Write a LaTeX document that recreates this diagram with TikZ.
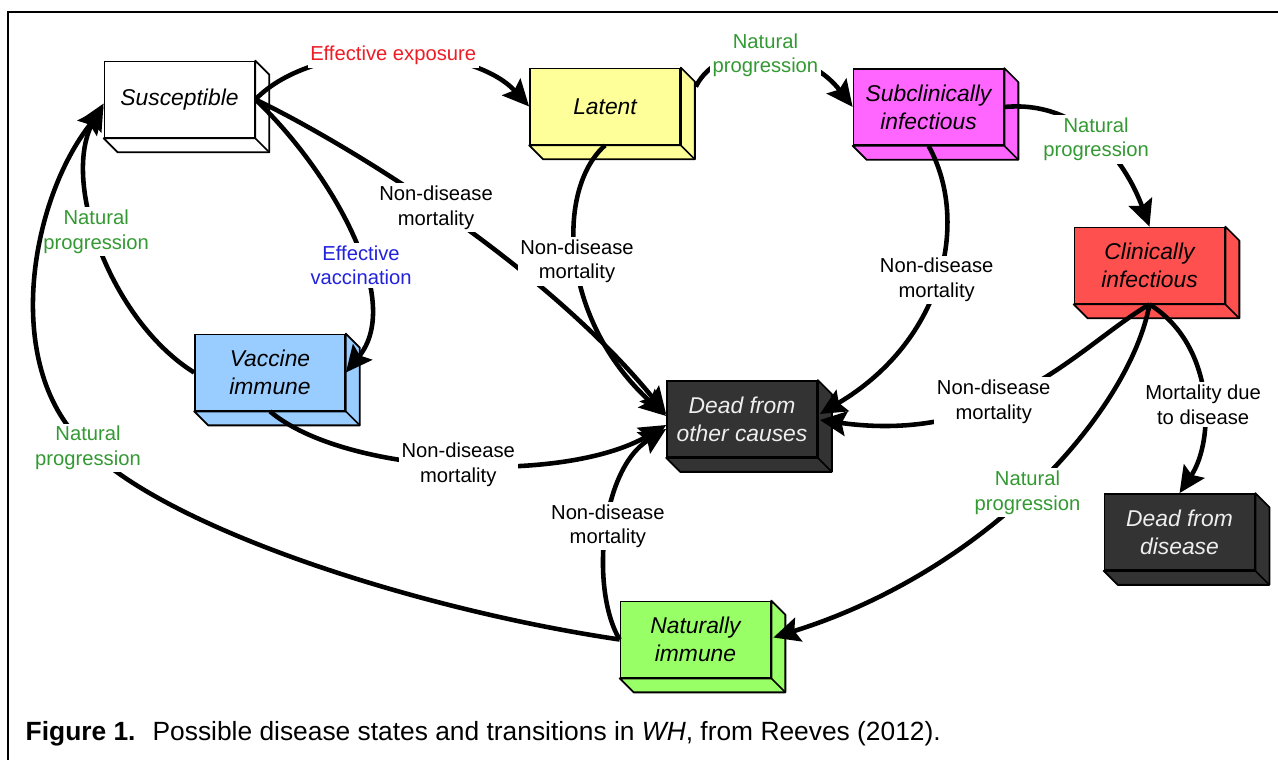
\documentclass[tikz,border=0pt]{standalone}
\usepackage{fontspec}
\setmainfont{Liberation Sans}
\usetikzlibrary{arrows.meta, positioning, calc}
\definecolor{cyellow}{HTML}{FFFF99}
\definecolor{cmagenta}{HTML}{FF66FF}
\definecolor{cred}{HTML}{FF5050}
\definecolor{cblue}{HTML}{99CCFF}
\definecolor{cdark}{HTML}{333333}
\definecolor{clime}{HTML}{99FF66}
\definecolor{clight}{HTML}{EEEEEE}
\definecolor{tgreen}{HTML}{339933}
\definecolor{tred}{HTML}{EE1C25}
\definecolor{tblue}{HTML}{2222DD}
\tikzset{
  every picture/.style={line width=1pt},
  state/.style={draw=black, fill=#1, line width=1pt, align=center, inner sep=2pt,
    minimum width=3cm, minimum height=1.52cm, font=\fontsize{13}{16}\selectfont\itshape},
  state/.default=white,
  arrow/.style={-{Stealth[length=15pt, width=14pt, inset=2.5pt]}, draw=black, line width=2.6pt},
  lbl/.style={fill=white, inner sep=1.5pt, align=center, font=\fontsize{11.5}{14}\selectfont, text=#1},
  lbl/.default=black,
}
% side and bottom faces of a state box (picture units are pixels)
\newcommand{\boxside}[2]{%
  \filldraw[fill=#2, draw=black, line width=1pt, line join=round]
    (#1.north east) -- ++(14,14) -- ([shift={(14,14)}]#1.south east)
    -- ([shift={(14,14)}]#1.south west) -- (#1.south west) -- (#1.south east) -- cycle;
  \draw[line width=1pt] (#1.south east) -- ++(14,14);
}

\begin{document}
\begin{tikzpicture}[x=0.02cm, y=-0.02cm]
  \useasboundingbox (0,0) rectangle (1278,760);
  % ---- frame ----
  \draw[line width=1pt] (8,760) -- (8,12) -- (1278,12);
  % ---- states ----
  \node[state=white] (sus) at (179.5,99.5) {Susceptible};
  \node[state=cyellow] (lat) at (605,106.5) {Latent};
  \node[state=cmagenta] (sub) at (928.5,107) {Subclinically\\infectious};
  \node[state=cred] (cli) at (1149.5,265.5) {Clinically\\infectious};
  \node[state=cblue] (vac) at (270,372.5) {Vaccine\\immune};
  \node[state=cdark, text=clight] (dot) at (742,419) {Dead from\\other causes};
  \node[state=cdark, text=clight] (dod) at (1179.5,532) {Dead from\\disease};
  \node[state=clime] (nat) at (695.5,639.5) {Naturally\\immune};
  \boxside{sus}{white}
  \boxside{lat}{cyellow}
  \boxside{sub}{cmagenta}
  \boxside{cli}{cred}
  \boxside{vac}{cblue}
  \boxside{dot}{cdark}
  \boxside{dod}{cdark}
  \boxside{nat}{clime}
  % ---- infection pathway ----
  \draw[arrow] (sus.east) .. controls (316,37) and (471,43) .. (lat.west)
    node[lbl=tred, pos=0.5] (lexp) {Effective exposure};
  \draw[arrow] ($(lat.north east)+(15,19)$) .. controls (720,38) and (805,45) .. (sub.west)
    node[lbl=tgreen, pos=0.5] (lnp1) {Natural\\progression};
  \draw[arrow] (sub.east) .. controls (1080,100) and (1125,160) .. (cli.north)
    node[lbl=tgreen, pos=0.5] (lnp2) {Natural\\progression};
  \draw[arrow] (sus.east) .. controls (330,170) and (405,300) .. (vac.east)
    node[lbl=tblue, pos=0.6] (lvac) {Effective\\vaccination};
  % ---- non-disease mortality ----
  \draw[arrow] (sus.east) .. controls (340,140) and (540,260) .. ($(dot.west)+(0,-5)$)
    node[lbl, pos=0.48] (lnd1) {Non-disease\\mortality};
  \draw[arrow] (lat.south) .. controls (555,190) and (560,320) .. ($(dot.west)+(0,-3)$)
    node[lbl, pos=0.5] (lnd2) {Non-disease\\mortality};
  \draw[arrow] (sub.south) .. controls (970,220) and (945,340) .. ($(dot.east)+(2,-5)$)
    node[lbl, pos=0.5] (lnd3) {Non-disease\\mortality};
  \draw[arrow] (cli.south) .. controls (1080,345) and (1000,445) .. ($(dot.east)+(2,1)$)
    node[lbl, pos=0.6] (lnd4) {Non-disease\\mortality};
  \draw[arrow] (vac.south) .. controls (345,475) and (565,485) .. ($(dot.west)+(0,6)$)
    node[lbl, pos=0.5] (lnd5) {Non-disease\\mortality};
  \draw[arrow] (nat.west) .. controls (590,590) and (600,470) .. ($(dot.west)+(0,10)$)
    node[lbl, pos=0.52] (lnd6) {Non-disease\\mortality};
  % ---- disease outcomes ----
  \draw[arrow] (cli.south) .. controls (1215,345) and (1215,440) .. (dod.north)
    node[lbl, pos=0.55] (lmor) {Mortality due\\to disease};
  \draw[arrow] (cli.south) .. controls (1130,410) and (990,570) .. ($(nat.east)+(2,-2)$)
    node[lbl=tgreen, pos=0.52] (lnp3) {Natural\\progression};
  % ---- waning immunity ----
  \draw[arrow] (vac.west) .. controls (110,320) and (60,180) .. ($(sus.west)+(0,4)$)
    node[lbl=tgreen, pos=0.55] (lnp4) {Natural\\progression};
  \draw[arrow] (nat.west) .. controls (420,610) and (170,530) .. (88,448)
    node[lbl=tgreen] (lnp5) {Natural\\progression}
    .. controls (0,370) and (30,200) .. ($(sus.west)+(0,8)$);
  % ---- caption ----
  \node[anchor=base west, font=\fontsize{15}{18}\selectfont] (cap) at (19,740)
    {\textbf{Figure 1.}~ Possible disease states and transitions in \textit{WH}, from Reeves (2012).};
\end{tikzpicture}
\end{document}
